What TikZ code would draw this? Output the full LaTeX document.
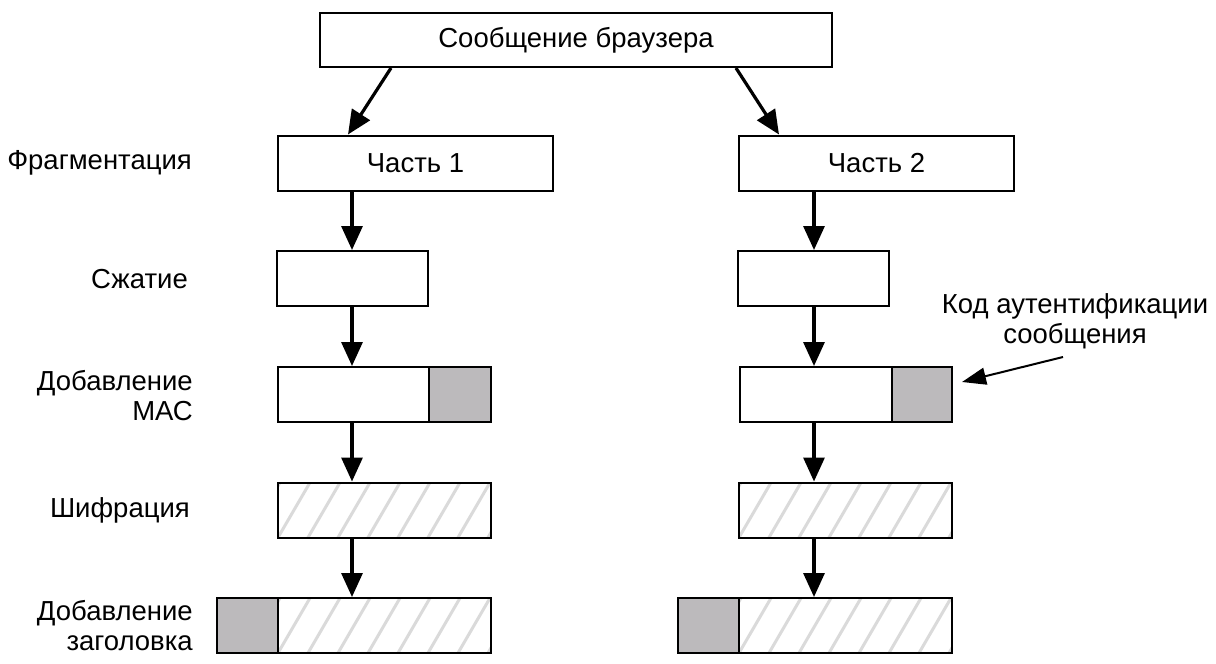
\documentclass[tikz,border=0pt]{standalone}
\usepackage{fontspec}
\setmainfont{Liberation Sans}
\usetikzlibrary{arrows.meta,calc}
\definecolor{macgray}{RGB}{188,186,188}
\definecolor{hatchgray}{RGB}{218,218,218}
\begin{document}
\begin{tikzpicture}[x=1pt,y=-1pt,
  font=\fontsize{27.5}{30}\selectfont,
  box/.style={draw, line width=2pt, inner sep=0pt, minimum height=55pt},
  graybox/.style={box, fill=macgray},
  hatchbox/.style={box, path picture={
      \foreach \k in {-3,...,9}
        \draw[hatchgray, line width=3pt]
          ($(path picture bounding box.south west)+(\k*30,0)$) -- ++(32,-55);}},
  flow/.style={line width=3.2pt, -{Triangle[length=24pt,width=21pt]}},
  lbl/.style={anchor=east, align=right, inner sep=0pt}
]
\useasboundingbox (0,0) rectangle (1216,664);

% top
\node[box, minimum width=512pt, minimum height=54pt] (top) at (576,40) {Сообщение браузера};

% fragments
\node[box, minimum width=275pt] (p1) at (415.5,163) {Часть 1};
\node[box, minimum width=275pt] (p2) at (876.5,163) {Часть 2};

% compression
\node[box, minimum width=151pt] (c1) at (352,278.5) {};
\node[box, minimum width=151pt] (c2) at (813,278.5) {};

% MAC
\node[box, minimum width=151pt] (m1w) at (353.5,394.5) {};
\node[graybox, minimum width=62pt] (m1g) at (460,394.5) {};
\node[box, minimum width=152pt] (m2w) at (816,394.5) {};
\node[graybox, minimum width=60pt] (m2g) at (922,394.5) {};

% encryption
\node[hatchbox, minimum width=213pt] (e1) at (384.5,510) {};
\node[hatchbox, minimum width=213pt] (e2) at (845.5,510) {};

% header
\node[hatchbox, minimum width=213pt] (h1) at (384.5,625.5) {};
\node[graybox, minimum width=61pt] (h1g) at (247.5,625.5) {};
\node[hatchbox, minimum width=213pt] (h2) at (845.5,625.5) {};
\node[graybox, minimum width=61pt] (h2g) at (708.5,625.5) {};

% left labels
\node[lbl] (lf) at (192,163) {Фрагментация};
\node[lbl] (lc) at (188,279) {Сжатие};
\node[lbl] (lm) at (193,396) {Добавление\\МАС};
\node[lbl] (le) at (190,510) {Шифрация};
\node[lbl] (lh) at (193,626) {Добавление\\заголовка};

% annotation
\node[align=center, inner sep=0pt] (ann) at (1075,321) {Код аутентификации\\сообщения};
\coordinate (annS) at (1063,357);
\coordinate (annT) at (962,382);
\draw[line width=2pt, -{Triangle[length=24pt,width=17pt]}] (annS) -- (annT);

% top arrows
\draw[flow] ($(top.south west)+(72,0)$) -- ($(p1.north west)+(71,0)$);
\draw[flow] ($(top.south west)+(417,0)$) -- ($(p2.north west)+(41,0)$);

% left column
\draw[flow] (c1.north |- p1.south) -- (c1.north);
\draw[flow] (c1.south) -- (c1.south |- m1w.north);
\draw[flow] (c1.south |- m1w.south) -- (c1.south |- e1.north);
\draw[flow] (c1.south |- e1.south) -- (c1.south |- h1.north);

% right column
\draw[flow] ($(c2.north |- p2.south)+(1,0)$) -- ($(c2.north)+(1,0)$);
\draw[flow] ($(c2.south)+(1,0)$) -- ($(c2.south |- m2w.north)+(1,0)$);
\draw[flow] ($(c2.south |- m2w.south)+(1,0)$) -- ($(c2.south |- e2.north)+(1,0)$);
\draw[flow] ($(c2.south |- e2.south)+(1,0)$) -- ($(c2.south |- h2.north)+(1,0)$);
\end{tikzpicture}
\end{document}
